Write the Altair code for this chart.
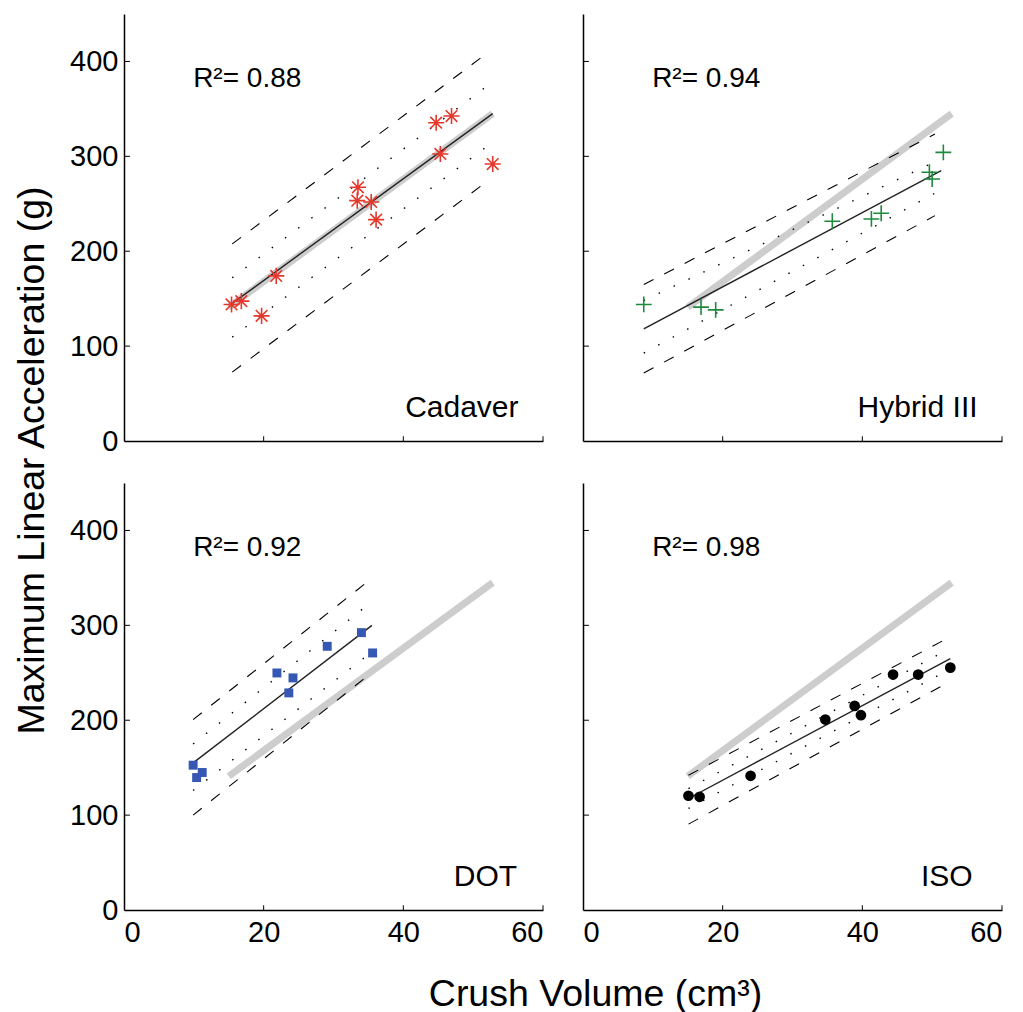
import altair as alt
import pandas as pd

FONT = "Liberation Sans"

# ---- axes ----
x_domain = [0, 60]
y_domain = [0, 450]
x_tick_values = [0, 20, 40, 60]
y_tick_values = [0, 100, 200, 300, 400]
inner_x_ticks = [20, 40, 60]
inner_y_ticks = [100, 200, 300, 400]

# ---- grey reference line (cadaver regression), repeated in every panel ----
ref_x = [15.0, 52.8]
ref_y = [141.0, 345.0]

# ---- Cadaver ----
cad_x = [15.4, 16.8, 19.7, 21.8, 33.5, 33.4, 35.4, 36.1, 44.7, 46.9, 45.3, 52.8]
cad_y = [143.9, 147.4, 131.9, 174.0, 267.4, 253.3, 251.9, 233.3, 335.4, 342.5, 302.5, 291.9]
cad_fit_x = [15.4, 52.8]
cad_fit_y = [144.5, 345.0]
cad_pred_x = [15.5, 51.5]
cad_pred_hi = [207.7, 406.0]
cad_pred_lo = [72.6, 270.9]
cad_conf_x = [15.5, 51.8]
cad_conf_hi = [172.0, 373.0]
cad_conf_lo = [109.5, 309.5]

# ---- Hybrid III ----
hyb_x = [8.7, 16.9, 19.0, 35.7, 41.3, 42.7, 49.6, 50.0, 51.6]
hyb_y = [143.9, 141.1, 138.2, 231.6, 234.0, 240.0, 283.2, 276.1, 304.2]
hyb_fit_x = [8.7, 51.3]
hyb_fit_y = [118.2, 284.9]
hyb_pred_x = [8.7, 50.4]
hyb_pred_hi = [164.9, 323.5]
hyb_pred_lo = [71.6, 237.5]
hyb_conf_x = [8.7, 50.6]
hyb_conf_hi = [148.0, 295.0]
hyb_conf_lo = [92.6, 262.0]

# ---- DOT ----
dot_x = [9.9, 10.4, 11.2, 21.9, 24.2, 23.6, 29.1, 34.0, 35.6]
dot_y = [152.6, 139.6, 144.9, 249.8, 244.6, 228.8, 277.9, 292.3, 270.9]
dot_fit_x = [9.9, 35.5]
dot_fit_y = [155.0, 300.0]
dot_pred_x = [9.9, 34.4]
dot_pred_hi = [200.7, 343.2]
dot_pred_lo = [100.0, 243.9]
dot_conf_x = [9.9, 35.5]
dot_conf_hi = [175.0, 325.0]
dot_conf_lo = [126.0, 272.0]

# ---- ISO ----
iso_x = [15.1, 16.7, 24.0, 34.7, 38.9, 39.8, 44.4, 48.0, 52.6]
iso_y = [120.4, 119.3, 141.4, 200.7, 215.1, 205.3, 248.1, 248.1, 255.4]
iso_fit_x = [15.1, 52.6]
iso_fit_y = [117.5, 265.0]
iso_pred_x = [15.1, 51.6]
iso_pred_hi = [142.0, 284.0]
iso_pred_lo = [90.5, 237.0]
iso_conf_x = [15.1, 51.6]
iso_conf_hi = [128.0, 272.0]
iso_conf_lo = [107.0, 250.0]

r2_labels = ["R\u00b2= 0.88", "R\u00b2= 0.94", "R\u00b2= 0.92", "R\u00b2= 0.98"]
panel_names = ["Cadaver", "Hybrid III", "DOT", "ISO"]
r2_pos = [9.9, 373.0]
name_pos_x = [56.5, 56.5, 56.3, 55.8]
name_pos_y = 25.0

W, H = 419, 427

ASTERISK = "M-1,0L1,0M0,-1L0,1M-0.72,-0.72L0.72,0.72M-0.72,0.72L0.72,-0.72"
PLUS = "M-1,0L1,0M0,-1L0,1"


def x_axis(show_labels, with_title):
    kw = dict(values=x_tick_values, labels=show_labels, ticks=False, grid=False,
              domainColor="black", domainWidth=1.5, labelFont=FONT, labelFontSize=29,
              labelColor="black", labelPadding=8)
    if with_title:
        kw.update(title="Crush Volume (cm\u00b3)", titleX=471, titleY=95,
                  titleBaseline="alphabetic", titleAlign="center", titleFont=FONT,
                  titleFontSize=37.5, titleFontWeight="normal", titleColor="black")
    else:
        kw.update(title=None)
    return alt.Axis(**kw)


def y_axis(show_labels, with_title):
    kw = dict(values=y_tick_values, labels=show_labels, ticks=False, grid=False,
              domainColor="black", domainWidth=1.5, labelFont=FONT, labelFontSize=29,
              labelColor="black", labelPadding=6)
    if with_title:
        kw.update(title="Maximum Linear Acceleration (g)", titleX=-81, titleY=446,
                  titleAngle=270, titleBaseline="alphabetic", titleAlign="center",
                  titleFont=FONT, titleFontSize=37.5, titleFontWeight="normal",
                  titleColor="black")
    else:
        kw.update(title=None)
    return alt.Axis(**kw)


def panel(idx, px, py, fit_x, fit_y, pred_x, pred_hi, pred_lo, conf_x, conf_hi, conf_lo,
          marker, show_xl, show_yl, xt, yt):
    xs = alt.Scale(domain=x_domain, nice=False, zero=False)
    ys = alt.Scale(domain=y_domain, nice=False, zero=False)
    X = alt.X("x:Q", scale=xs, axis=x_axis(show_xl, xt))
    Y = alt.Y("y:Q", scale=ys, axis=y_axis(show_yl, yt))

    ref = alt.Chart(pd.DataFrame({"x": ref_x, "y": ref_y})).mark_line(
        color="#cdcdcd", strokeWidth=7, strokeCap="butt").encode(x=X, y=Y)

    pred_df = pd.DataFrame({"x": pred_x + pred_x, "y": pred_hi + pred_lo,
                            "b": ["hi", "hi", "lo", "lo"]})
    pred = alt.Chart(pred_df).mark_line(color="black", strokeWidth=1.1,
                                        strokeDash=[11, 12]).encode(x=X, y=Y, detail="b:N")
    conf_df = pd.DataFrame({"x": conf_x + conf_x, "y": conf_hi + conf_lo,
                            "b": ["hi", "hi", "lo", "lo"]})
    conf = alt.Chart(conf_df).mark_line(color="black", strokeWidth=1.4,
                                        strokeDash=[1.5, 15]).encode(x=X, y=Y, detail="b:N")
    fit = alt.Chart(pd.DataFrame({"x": fit_x, "y": fit_y})).mark_line(
        color="#222222", strokeWidth=1.4).encode(x=X, y=Y)

    pts = alt.Chart(pd.DataFrame({"x": px, "y": py})).mark_point(**marker).encode(x=X, y=Y)

    r2 = alt.Chart(pd.DataFrame({"x": [r2_pos[0]], "y": [r2_pos[1]], "t": [r2_labels[idx]]})).mark_text(
        align="left", baseline="alphabetic", font=FONT, fontSize=28, color="black"
    ).encode(x=X, y=Y, text="t:N")
    nm = alt.Chart(pd.DataFrame({"x": [name_pos_x[idx]], "y": [name_pos_y], "t": [panel_names[idx]]})).mark_text(
        align="right", baseline="alphabetic", font=FONT, fontSize=30, color="black"
    ).encode(x=X, y=Y, text="t:N")

    xt_rules = alt.Chart(pd.DataFrame({"x": inner_x_ticks})).mark_rule(
        color="black", strokeWidth=1).encode(x=X, y=alt.datum(0, scale=ys), y2=alt.datum(5))
    yt_rules = alt.Chart(pd.DataFrame({"y": inner_y_ticks})).mark_rule(
        color="black", strokeWidth=1).encode(y=Y, x=alt.datum(0, scale=xs), x2=alt.datum(0.85))

    return alt.layer(ref, conf, pred, fit, pts, r2, nm, xt_rules, yt_rules).properties(
        width=W, height=H)


cad_marker = dict(shape=ASTERISK, filled=False, color="#e4382c", strokeWidth=1.6, size=260, opacity=1)
hyb_marker = dict(shape=PLUS, filled=False, color="#1f8a3e", strokeWidth=1.6, size=250, opacity=1)
dot_marker = dict(shape="square", filled=True, color="#3657b4", size=80, opacity=1)
iso_marker = dict(shape="circle", filled=True, color="black", size=115, opacity=1)

p1 = panel(0, cad_x, cad_y, cad_fit_x, cad_fit_y, cad_pred_x, cad_pred_hi, cad_pred_lo,
           cad_conf_x, cad_conf_hi, cad_conf_lo, cad_marker, False, True, False, True)
p2 = panel(1, hyb_x, hyb_y, hyb_fit_x, hyb_fit_y, hyb_pred_x, hyb_pred_hi, hyb_pred_lo,
           hyb_conf_x, hyb_conf_hi, hyb_conf_lo, hyb_marker, False, False, False, False)
p3 = panel(2, dot_x, dot_y, dot_fit_x, dot_fit_y, dot_pred_x, dot_pred_hi, dot_pred_lo,
           dot_conf_x, dot_conf_hi, dot_conf_lo, dot_marker, True, True, True, False)
p4 = panel(3, iso_x, iso_y, iso_fit_x, iso_fit_y, iso_pred_x, iso_pred_hi, iso_pred_lo,
           iso_conf_x, iso_conf_hi, iso_conf_lo, iso_marker, True, False, False, False)

chart = alt.concat(p1, p2, p3, p4, columns=2, spacing=alt.RowColnumber(row=42, column=40),
                   bounds="flush").properties(
    padding={"left": 12, "top": 14, "right": 5, "bottom": 2}
).configure_view(stroke=None)

chart.save("out.html", embed_options={"renderer": "svg", "actions": False})
